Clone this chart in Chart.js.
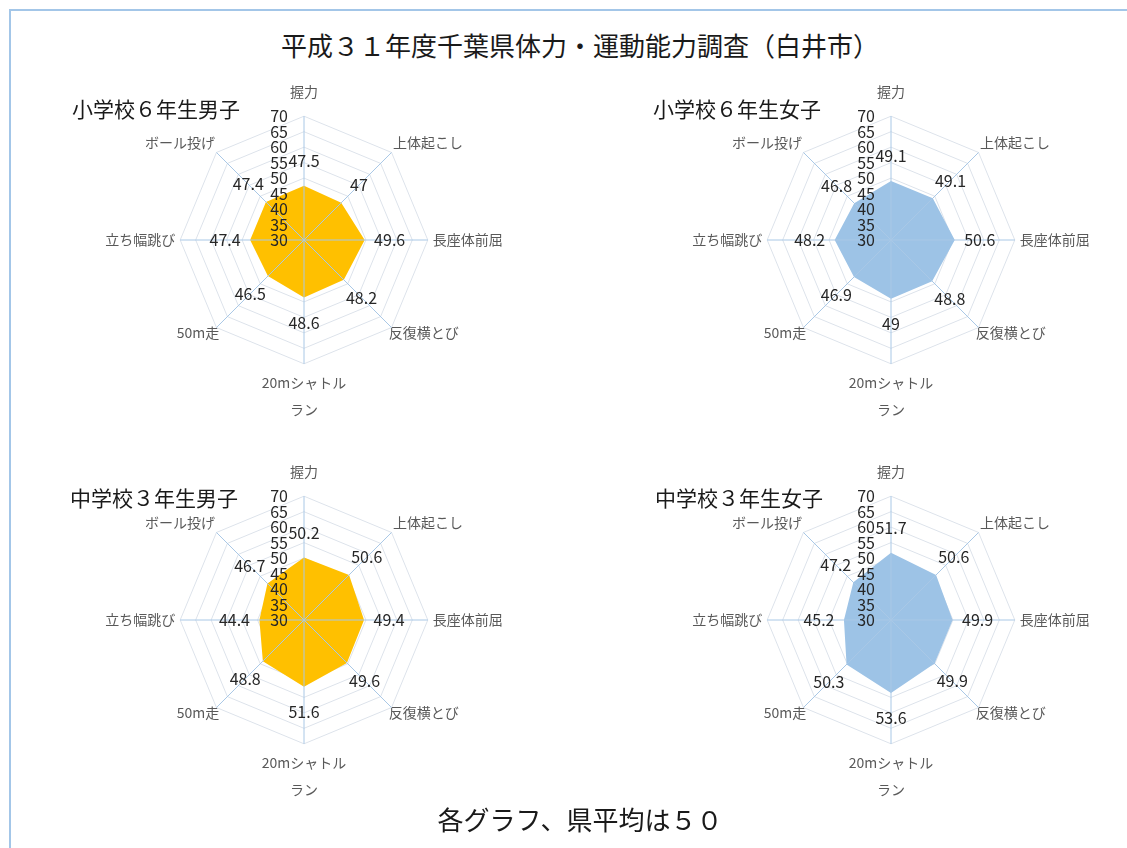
<!DOCTYPE html>
<html>
<head>
<meta charset="utf-8">
<script src="https://cdn.jsdelivr.net/npm/chart.js@4/dist/chart.umd.min.js"></script>
<style>
  html, body { margin: 0; padding: 0; background: #fff; overflow: hidden; }
  body { width: 1127px; height: 848px; position: relative; font-family: "Noto Sans CJK JP", sans-serif; color: #1a1a1a; }
  .frame { position: absolute; left: 9px; top: 9px; width: 1200px; height: 900px; border: 2px solid #a3c6e8; }
  .title { position: absolute; left: 0; width: 1160px; text-align: center; font-size: 26px; line-height: 30px; }
  .sub { position: absolute; font-size: 21px; line-height: 24px; white-space: nowrap; }
  .box { position: absolute; width: 400px; height: 366px; }
</style>
</head>
<body>
<div class="frame"></div>
<div class="title" style="top:30px;">平成３１年度千葉県体力・運動能力調査（白井市）</div>

<div class="box" style="left:104px; top:71px;"><canvas id="c1" width="400" height="366"></canvas></div>
<div class="box" style="left:691px; top:71px;"><canvas id="c2" width="400" height="366"></canvas></div>
<div class="box" style="left:104px; top:451px;"><canvas id="c3" width="400" height="366"></canvas></div>
<div class="box" style="left:691px; top:451px;"><canvas id="c4" width="400" height="366"></canvas></div>

<div class="sub" style="left:72px; top:96px;">小学校６年生男子</div>
<div class="sub" style="left:653px; top:96px;">小学校６年生女子</div>
<div class="sub" style="left:70px; top:485px;">中学校３年生男子</div>
<div class="sub" style="left:655px; top:485px;">中学校３年生女子</div>

<div class="title" style="top:804px;">各グラフ、県平均は５０</div>

<script>
const categories = ['握力', '上体起こし', '長座体前屈', '反復横とび', ['20mシャトル', 'ラン'], '50m走', '立ち幅跳び', 'ボール投げ'];

const elemBoys  = [47.5, 47, 49.6, 48.2, 48.6, 46.5, 47.4, 47.4];
const elemGirls = [49.1, 49.1, 50.6, 48.8, 49, 46.9, 48.2, 46.8];
const juniorBoys  = [50.2, 50.6, 49.4, 49.6, 51.6, 48.8, 44.4, 46.7];
const juniorGirls = [51.7, 50.6, 49.9, 49.9, 53.6, 50.3, 45.2, 47.2];

const scaleMin = 30, scaleMax = 70, scaleStep = 5;

const ORANGE = '#ffc000';
const BLUE = '#9dc3e6';
const FONT = '"Noto Sans CJK JP", sans-serif';

// angle lines over the fill, then tick numbers and value labels
const overlay = {
  id: 'overlay',
  afterDatasetsDraw(chart) {
    const ctx = chart.ctx;
    const r = chart.scales.r;
    const n = chart.data.labels.length;
    ctx.save();
    ctx.strokeStyle = '#a9c8e6';
    ctx.lineWidth = 1;
    for (let i = 0; i < n; i++) {
      const p = r.getPointPositionForValue(i, scaleMax);
      ctx.beginPath();
      ctx.moveTo(r.xCenter, r.yCenter);
      ctx.lineTo(p.x, p.y);
      ctx.stroke();
    }
    ctx.fillStyle = '#262626';
    ctx.font = '16px ' + FONT;
    ctx.textAlign = 'right';
    ctx.textBaseline = 'middle';
    r.ticks.forEach(t => {
      const y = r.yCenter - r.getDistanceFromCenterForValue(t.value);
      ctx.fillText(String(t.value), r.xCenter - 16, y);
    });
    ctx.textAlign = 'center';
    const meta = chart.getDatasetMeta(0);
    const vals = chart.data.datasets[0].data;
    meta.data.forEach((pt, i) => {
      const a = r.getIndexAngle(i) - Math.PI / 2;
      ctx.fillText(String(vals[i]), pt.x + Math.cos(a) * 25, pt.y + Math.sin(a) * 25);
    });
    ctx.restore();
  }
};

function makeRadar(id, values, color) {
  const canvas = document.getElementById(id);
  const ctx = canvas.getContext('2d');
  return new Chart(ctx, {
    type: 'radar',
    data: {
      labels: categories,
      datasets: [{
        data: values,
        backgroundColor: color,
        borderWidth: 0,
        pointRadius: 0,
        fill: true
      }]
    },
    options: {
      responsive: false,
      animation: false,
      layout: { padding: 0 },
      plugins: { legend: { display: false }, tooltip: { enabled: false } },
      scales: {
        r: {
          min: scaleMin,
          max: scaleMax,
          ticks: { stepSize: scaleStep, display: false },
          grid: { color: '#dde3eb', lineWidth: 1 },
          angleLines: { display: false },
          pointLabels: {
            color: '#595959',
            font: (c) => c.index === 4
              ? { family: FONT, size: 14, lineHeight: 1.9 }
              : { family: FONT, size: 14, lineHeight: 1.2 },
            padding: (c) => [16, 2, 5, -4, 6, -4, 5, 2][c.index]
          }
        }
      }
    },
    plugins: [overlay]
  });
}

makeRadar('c1', elemBoys, ORANGE);
makeRadar('c2', elemGirls, BLUE);
makeRadar('c3', juniorBoys, ORANGE);
makeRadar('c4', juniorGirls, BLUE);
</script>
</body>
</html>
